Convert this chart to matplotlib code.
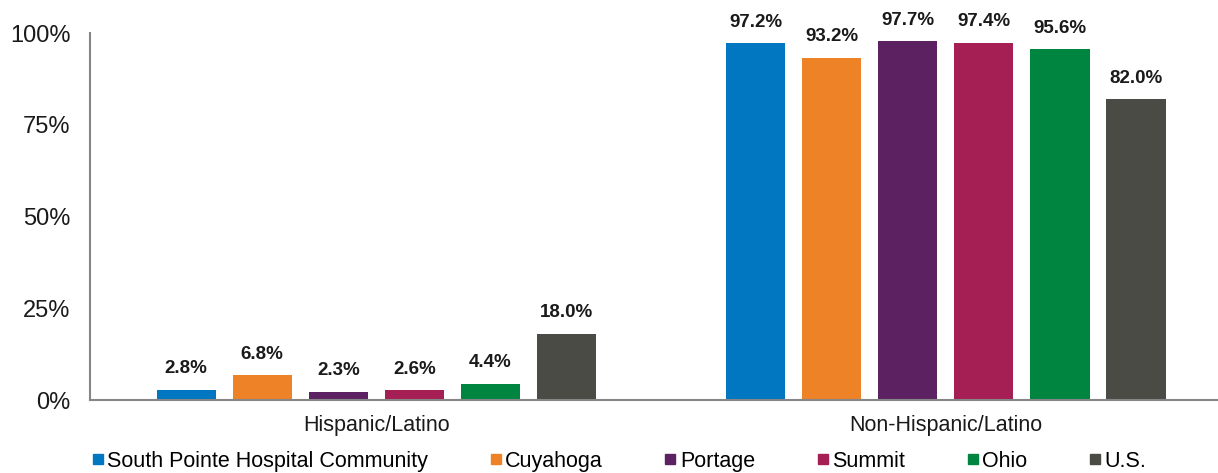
import matplotlib
matplotlib.use("Agg")
import matplotlib.pyplot as plt
from matplotlib.lines import Line2D
import numpy as np

plt.rcParams['font.family'] = ['Liberation Sans', 'DejaVu Sans']

# data
categories = ["Hispanic/Latino", "Non-Hispanic/Latino"]
series_names = ["South Pointe Hospital Community", "Cuyahoga", "Portage", "Summit", "Ohio", "U.S."]
south_pointe = [2.8, 97.2]
cuyahoga = [6.8, 93.2]
portage = [2.3, 97.7]
summit = [2.6, 97.4]
ohio = [4.4, 95.6]
us = [18.0, 82.0]
series_values = [south_pointe, cuyahoga, portage, summit, ohio, us]
colors = ["#0077C0", "#EE8226", "#5C2160", "#A51F55", "#008540", "#4B4B45"]
y_ticks = [0, 25, 50, 75, 100]
y_tick_labels = ["0%", "25%", "50%", "75%", "100%"]

fig = plt.figure(figsize=(12.18, 4.73), dpi=100)
ax = fig.add_axes([0.0739, 0.1543, 0.9261, 0.7759])

x = np.arange(len(categories))
step = 0.1336
width = 0.104
n = len(series_values)

for i, (vals, col) in enumerate(zip(series_values, colors)):
    pos = x + (i - (n - 1) / 2) * step
    bars = ax.bar(pos, vals, width=width, color=col, zorder=2)
    for b, v in zip(bars, vals):
        ax.annotate(f"{v:.1f}%", (b.get_x() + b.get_width() / 2, v),
                    xytext=(0, 9), textcoords="offset points",
                    ha="center", va="bottom", fontsize=13.5,
                    fontweight="bold", color="#1a1a1a")

ax.set_xlim(-0.503, 1.478)
ax.set_ylim(0, 100)
ax.set_yticks(y_ticks)
ax.set_yticklabels(y_tick_labels)
ax.set_xticks(x)
ax.set_xticklabels(categories)
ax.tick_params(axis="y", length=0, pad=14, labelsize=17, colors="#1a1a1a")
ax.tick_params(axis="x", length=0, pad=11, labelsize=15.5, colors="#1a1a1a")

for s in ["top", "right"]:
    ax.spines[s].set_visible(False)
for s in ["left", "bottom"]:
    ax.spines[s].set_color("#868686")
    ax.spines[s].set_linewidth(1.5)

handles = [Line2D([0], [0], marker="s", linestyle="none", markersize=7.5,
                  markerfacecolor=c, markeredgecolor=c) for c in colors]
fig.legend(handles, series_names, loc="center", bbox_to_anchor=(0.508, 0.025),
           ncol=6, frameon=False, fontsize=15.5, handlelength=0.6,
           handletextpad=0.15, columnspacing=2.83, borderpad=0)

fig.savefig("out.png", dpi=100)
